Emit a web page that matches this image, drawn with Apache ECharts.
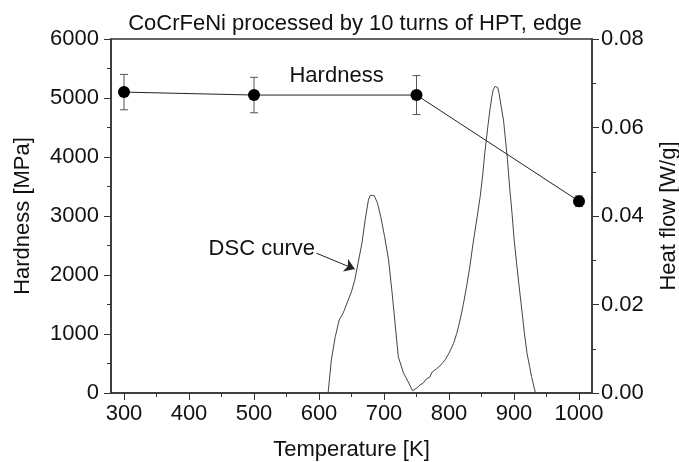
<!DOCTYPE html>
<html>
<head>
<meta charset="utf-8">
<script src="https://cdn.jsdelivr.net/npm/echarts@6/dist/echarts.min.js"></script>
<style>
  html, body { margin: 0; padding: 0; background: #fff; }
  #chart { width: 679px; height: 462px; }
</style>
</head>
<body>
<div id="chart"></div>
<script>
// hardness measurements (left axis)
var hardTemp = [300, 500, 750, 1000];
var hardness = [5100, 5050, 5050, 3250];
var hardErr = [300, 300, 330, 90];

// DSC trace (right axis)
var dscTemp = [614, 619, 625, 631, 637, 643, 650, 655, 660, 666, 671, 676, 679, 682, 685, 690, 695, 701, 707, 712,
  717, 722, 730, 737, 744, 747, 751, 755, 760, 766, 770, 774, 777, 781, 786, 794, 800, 807, 812, 817,
  822, 827, 832, 837, 843, 848, 852, 855, 860, 863, 866, 868, 871, 873, 875, 877, 880, 884, 887, 890,
  893, 897, 900, 904, 908, 912, 916, 920, 924, 927, 930, 933];
var dscFlow = [0, 0.0075, 0.0127, 0.0165, 0.018, 0.0203, 0.0229, 0.0255, 0.0293, 0.0338, 0.0391, 0.0436, 0.0447, 0.0445, 0.0446, 0.0429, 0.0398, 0.0353, 0.0301, 0.0233,
  0.0158, 0.0082, 0.0045, 0.0026, 0.0005, 0.0004, 0.0012, 0.0018, 0.0022, 0.0033, 0.0035, 0.0047, 0.0043, 0.0055, 0.0061, 0.0075, 0.009, 0.0112, 0.0135, 0.0165,
  0.02, 0.024, 0.0285, 0.0338, 0.0395, 0.0444, 0.0495, 0.0542, 0.0605, 0.064, 0.067, 0.0685, 0.0693, 0.0694, 0.069, 0.0677, 0.065, 0.0615, 0.057, 0.0527,
  0.047, 0.0405, 0.035, 0.0293, 0.024, 0.0188, 0.0135, 0.009, 0.006, 0.0037, 0.0018, 0];

// axis ticks
var xMajor = [300, 400, 500, 600, 700, 800, 900, 1000];
var xMinor = [350, 450, 550, 650, 750, 850, 950];

var font = 'Liberation Sans, Arial, sans-serif';
var axisColor = '#333';
var fs = 22;

var chart = echarts.init(document.getElementById('chart'));

var hardData = hardTemp.map(function (t, i) { return [t, hardness[i]]; });
var errData = hardTemp.map(function (t, i) { return [t, hardness[i] - hardErr[i], hardness[i] + hardErr[i]]; });
var dscData = dscTemp.map(function (t, i) { return [t, dscFlow[i]]; });

function plain(v) { return String(v); }

chart.setOption({
    animation: false,
    textStyle: {
        fontFamily: font
    },
    title: {
        text: 'CoCrFeNi processed by 10 turns of HPT, edge',
        left: 350,
        textAlign: 'center',
        top: 8,
        textStyle: {
            fontFamily: font,
            fontWeight: 'normal',
            fontSize: fs,
            color: '#111'
        }
    },
    grid: {
        show: true,
        left: 111,
        right: 87,
        top: 39,
        bottom: 69,
        outerBoundsMode: 'none',
        containLabel: false,
        borderColor: axisColor,
        borderWidth: 1.5,
        backgroundColor: '#fff'
    },
    xAxis: [
        {
            type: 'value',
            min: 280,
            max: 1020,
            name: 'Temperature [K]',
            nameLocation: 'middle',
            nameGap: 46,
            nameTextStyle: { fontSize: fs, color: '#111', fontFamily: font },
            axisLine: { show: true, lineStyle: { color: axisColor, width: 1.5 } },
            axisTick: { show: true, length: 7, customValues: xMajor, lineStyle: { color: axisColor } },
            axisLabel: { color: '#111', fontSize: fs, margin: 10, customValues: xMajor, fontFamily: font, formatter: plain },
            splitLine: { show: false }
        },
        {
            // minor ticks only
            type: 'value',
            min: 280,
            max: 1020,
            position: 'bottom',
            axisLine: { show: true, lineStyle: { color: axisColor, opacity: 0 } },
            axisTick: { show: true, length: 4, customValues: xMinor, lineStyle: { color: axisColor, width: 1 } },
            axisLabel: { show: true, customValues: xMinor, formatter: function () { return ''; } },
            splitLine: { show: false }
        }
    ],
    yAxis: [
        {
            type: 'value',
            min: 0,
            max: 6000,
            interval: 1000,
            name: 'Hardness [MPa]',
            nameLocation: 'middle',
            nameGap: 77,
            nameTextStyle: { fontSize: fs, color: '#111', fontFamily: font },
            axisLine: { show: true, lineStyle: { color: axisColor, width: 1.5 } },
            axisTick: { show: true, length: 7, lineStyle: { color: axisColor } },
            minorTick: { show: true, splitNumber: 2, length: 4, lineStyle: { color: axisColor } },
            axisLabel: { color: '#111', fontSize: fs, margin: 12, fontFamily: font, formatter: plain },
            splitLine: { show: false }
        },
        {
            type: 'value',
            min: 0,
            max: 0.08,
            interval: 0.02,
            position: 'right',
            name: 'Heat flow [W/g]',
            nameLocation: 'middle',
            nameGap: 66,
            nameRotate: 90,
            nameTextStyle: { fontSize: fs, color: '#111', fontFamily: font },
            axisLine: { show: true, lineStyle: { color: axisColor, width: 1.5 } },
            axisTick: { show: true, length: 7, lineStyle: { color: axisColor } },
            minorTick: { show: true, splitNumber: 2, length: 4, lineStyle: { color: axisColor } },
            axisLabel: {
                color: '#111',
                fontSize: fs,
                margin: 9,
                fontFamily: font,
                formatter: function (v) { return v.toFixed(2); }
            },
            splitLine: { show: false }
        }
    ],
    series: [
        {
            name: 'DSC',
            type: 'line',
            xAxisIndex: 1,
            yAxisIndex: 1,
            data: dscData,
            showSymbol: false,
            symbol: 'none',
            lineStyle: { color: '#444', width: 1 },
            z: 1,
            markLine: {
                silent: true,
                symbol: ['none', 'arrow'],
                symbolSize: 10,
                label: { show: false },
                lineStyle: { color: '#222', width: 1, type: 'solid' },
                data: [[{ coord: [596, 0.0316] }, { coord: [655, 0.0280] }]]
            },
            markPoint: {
                silent: true,
                symbol: 'circle',
                symbolSize: 0,
                label: {
                    show: true,
                    position: 'inside',
                    formatter: '{b}',
                    color: '#111',
                    fontSize: fs,
                    fontFamily: font
                },
                data: [{ name: 'DSC curve', coord: [512, 0.0325] }]
            }
        },
        {
            name: 'Hardness error',
            type: 'custom',
            xAxisIndex: 0,
            yAxisIndex: 0,
            data: errData,
            z: 2,
            renderItem: function (params, api) {
                var x = api.value(0);
                var lo = api.coord([x, api.value(1)]);
                var hi = api.coord([x, api.value(2)]);
                var w = 4;
                var st = { stroke: '#555', lineWidth: 1 };
                return {
                    type: 'group',
                    children: [
                        { type: 'line', shape: { x1: lo[0], y1: lo[1], x2: hi[0], y2: hi[1] }, style: st },
                        { type: 'line', shape: { x1: lo[0] - w, y1: lo[1], x2: lo[0] + w, y2: lo[1] }, style: st },
                        { type: 'line', shape: { x1: hi[0] - w, y1: hi[1], x2: hi[0] + w, y2: hi[1] }, style: st }
                    ]
                };
            }
        },
        {
            name: 'Hardness',
            type: 'line',
            xAxisIndex: 0,
            yAxisIndex: 0,
            data: hardData,
            symbol: 'circle',
            symbolSize: 12,
            itemStyle: { color: '#000' },
            lineStyle: { color: '#222', width: 1 },
            z: 3,
            markPoint: {
                silent: true,
                symbol: 'circle',
                symbolSize: 0,
                label: {
                    show: true,
                    position: 'inside',
                    formatter: '{b}',
                    color: '#111',
                    fontSize: fs,
                    fontFamily: font
                },
                data: [{ name: 'Hardness', coord: [627, 5370] }]
            }
        }
    ]
});
</script>
</body>
</html>
